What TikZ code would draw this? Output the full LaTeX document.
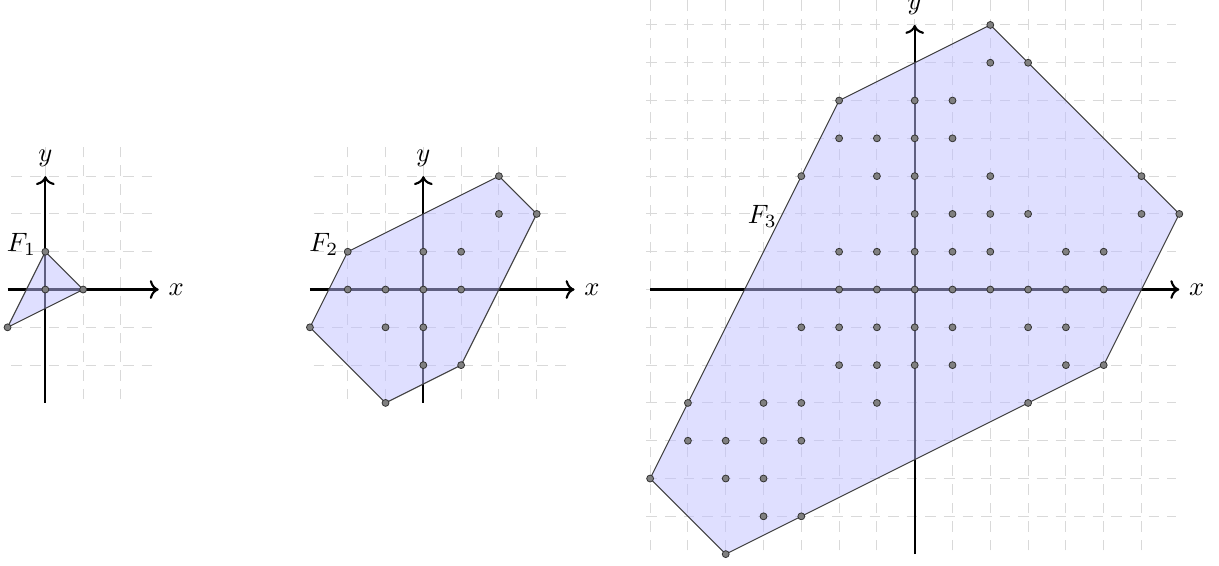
\documentclass[tikz,border=0pt]{standalone}
\usetikzlibrary{arrows.meta}
\tikzset{
  gridline/.style={step=1, gray!30, thin, dash pattern=on 4pt off 3pt},
  axis/.style={->, thick},
  region/.style={fill=blue!25, fill opacity=0.5, draw=black!75, thin},
  latpt/.style={circle, fill=gray, draw=black!80, line width=0.3pt, inner sep=0pt, minimum size=2.6pt},
  fname/.style={anchor=base east}
}
\begin{document}
\begin{tikzpicture}[x=0.5cm,y=0.5cm]
  \useasboundingbox (-24.2,-7.29) rectangle (8.05,7.66);
  % F_1
  \begin{scope}[shift={(-23,0)}]
    \draw[gridline] (-0.9,-2.9) grid (2.9,3.9);
    \draw[axis] (-1,0) -- (3,0) node[right] (x1) {$x$};
    \draw[axis] (0,-3) -- (0,3) node[above] (y1) {$y$};
    \coordinate (a1) at (0,1); \coordinate (a2) at (1,0); \coordinate (a3) at (-1,-1);
    \draw[region] (a1) -- (a2) -- (a3) -- cycle;
    \foreach \p [count=\i] in {(0,1),(0,0),(1,0),(-1,-1)}
      \node[latpt] (p1-\i) at \p {};
    \node[fname] (f1) at (a1) {$F_1$};
  \end{scope}
  % F_2
  \begin{scope}[shift={(-13,0)}]
    \draw[gridline] (-2.9,-2.9) grid (3.9,3.9);
    \draw[axis] (-3,0) -- (4,0) node[right] (x2) {$x$};
    \draw[axis] (0,-3) -- (0,3) node[above] (y2) {$y$};
    \coordinate (b1) at (-2,1); \coordinate (b2) at (2,3); \coordinate (b3) at (3,2);
    \coordinate (b4) at (1,-2); \coordinate (b5) at (-1,-3); \coordinate (b6) at (-3,-1);
    \draw[region] (b1) -- (b2) -- (b3) -- (b4) -- (b5) -- (b6) -- cycle;
    \foreach \p [count=\i] in {(2,3),(2,2),(3,2),(-2,1),(0,1),(1,1),(-2,0),(-1,0),(0,0),(1,0),
                               (-3,-1),(-1,-1),(0,-1),(0,-2),(1,-2),(-1,-3)}
      \node[latpt] (p2-\i) at \p {};
    \node[fname] (f2) at (b1) {$F_2$};
  \end{scope}
  % F_3
  \draw[gridline] (-7.1,-6.9) grid (6.9,7.9);
  \draw[axis] (-7,0) -- (7,0) node[right] (x3) {$x$};
  \draw[axis] (0,-7) -- (0,7) node[above] (y3) {$y$};
  \coordinate (c1) at (-2,5); \coordinate (c2) at (2,7); \coordinate (c3) at (7,2);
  \coordinate (c4) at (5,-2); \coordinate (c5) at (-5,-7); \coordinate (c6) at (-7,-5);
  \draw[region] (c1) -- (c2) -- (c3) -- (c4) -- (c5) -- (c6) -- cycle;
  \foreach \p [count=\i] in {(2,7),(2,6),(3,6),(-2,5),(0,5),(1,5),(-2,4),(-1,4),(0,4),(1,4),
                             (-3,3),(-1,3),(0,3),(2,3),(6,3),(0,2),(1,2),(2,2),(3,2),(6,2),(7,2),
                             (-2,1),(-1,1),(0,1),(1,1),(2,1),(4,1),(5,1),
                             (-2,0),(-1,0),(0,0),(1,0),(2,0),(3,0),(4,0),(5,0),
                             (-3,-1),(-2,-1),(-1,-1),(0,-1),(1,-1),(3,-1),(4,-1),
                             (-2,-2),(-1,-2),(0,-2),(1,-2),(4,-2),(5,-2),
                             (-6,-3),(-4,-3),(-3,-3),(-1,-3),(3,-3),
                             (-6,-4),(-5,-4),(-4,-4),(-3,-4),
                             (-7,-5),(-5,-5),(-4,-5),(-4,-6),(-3,-6),(-5,-7)}
    \node[latpt] (p3-\i) at \p {};
  \node[fname] (f3) at (-3.4,1.75) {$F_3$};
\end{tikzpicture}
\end{document}
